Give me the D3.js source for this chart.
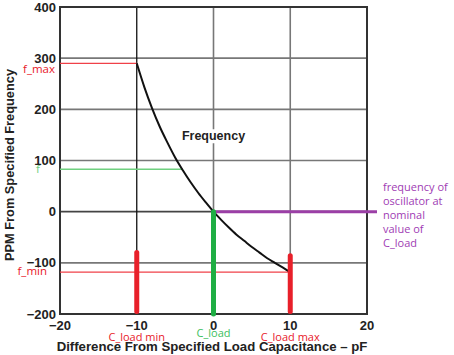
<!DOCTYPE html>
<html><head><meta charset="utf-8">
<script src="https://cdn.jsdelivr.net/npm/d3@7"></script>
<style>body{margin:0;background:#fff}svg{display:block}</style>
</head><body>
<svg id="c" width="454" height="355"></svg>
<script>
const xTicks = [-20, -10, 0, 10, 20];
const yTicks = [-200, -100, 0, 100, 200, 300, 400];
const curveX = [-10,-9,-8,-7,-6,-5,-4,-3,-2,-1,0,1,2,3,4,5,6,7,8,9,10];
const curveY = [290,243,202,166,135,106,81,58,37,18,0,-16,-31,-45,-57,-69,-80,-91,-100,-109,-118];
const fMax = 290, fNom = 83, fMin = -118, fNomX = -4;
const bars = [
  {x:-10, y0:-80, y1:-195, color:"#e8202a"},
  {x:0, y0:0, y1:-200, color:"#1fae44"},
  {x:10, y0:-86, y1:-195, color:"#e8202a"}
];
const bottomLabels = [
  {x:-10, text:"C_load min", color:"#e8202a", dy:27},
  {x:0, text:"C_load", color:"#3cc060", dy:23},
  {x:10, text:"C_load max", color:"#e8202a", dy:27}
];
const noteLines = ["frequency of","oscillator at","nominal","value of","C_load"];

const svg = d3.select("#c");
const L=60, R=367, T=7, B=314;
const x = d3.scaleLinear().domain([-20,20]).range([L,R]);
const y = d3.scaleLinear().domain([-200,400]).range([B,T]);
const bold = "Liberation Sans, Arial, sans-serif";
const light = "Open Sans, Noto Sans, sans-serif";

// grid
const g = svg.append("g");
yTicks.forEach(v=>{
  g.append("line").attr("x1",L).attr("x2",R).attr("y1",y(v)).attr("y2",y(v))
   .attr("stroke", v===0 ? "#444" : "#777").attr("stroke-width",1.6);
});
[-10,0,10].forEach(v=>{
  g.append("line").attr("x1",x(v)).attr("x2",x(v)).attr("y1",T).attr("y2",B)
   .attr("stroke", v===-10 ? "#111" : "#777").attr("stroke-width", v===-10?1.3:1.6);
});
// border
svg.append("rect").attr("x",L).attr("y",T).attr("width",R-L).attr("height",B-T)
  .attr("fill","none").attr("stroke","#333").attr("stroke-width",2);

// Frequency label with white bg
const fl = svg.append("text").attr("x",x(0)).attr("y",y(146)).attr("text-anchor","middle")
  .attr("dominant-baseline","middle").attr("font-family",bold).attr("font-weight","bold")
  .attr("font-size",12.5).attr("fill","#222").text("Frequency");
const bb = fl.node().getBBox();
svg.insert("rect", "text").attr("x",bb.x-1).attr("y",bb.y).attr("width",bb.width+2).attr("height",bb.height).attr("fill","#fff");

// horizontal annotation lines
svg.append("line").attr("x1",L).attr("x2",x(-10)).attr("y1",y(fMax)).attr("y2",y(fMax)).attr("stroke","#f04048").attr("stroke-width",1.2);
svg.append("line").attr("x1",L).attr("x2",x(fNomX)).attr("y1",y(fNom)).attr("y2",y(fNom)).attr("stroke","#6fd07f").attr("stroke-width",1.4);
svg.append("line").attr("x1",L).attr("x2",x(10)).attr("y1",y(fMin)).attr("y2",y(fMin)).attr("stroke","#f04048").attr("stroke-width",1.2);

// curve
const pts = curveX.map((v,i)=>[v,curveY[i]]);
svg.append("path").datum(pts).attr("fill","none").attr("stroke","#111").attr("stroke-width",2)
  .attr("d", d3.line().x(d=>x(d[0])).y(d=>y(d[1])).curve(d3.curveMonotoneX));

// purple line
svg.append("line").attr("x1",x(0)).attr("x2",x(20)+10).attr("y1",y(0)).attr("y2",y(0)).attr("stroke","#9b3fa6").attr("stroke-width",3);

// bars
bars.forEach(b=>{
  svg.append("line").attr("x1",x(b.x)).attr("x2",x(b.x)).attr("y1",y(b.y0)).attr("y2",y(b.y1))
   .attr("stroke",b.color).attr("stroke-width",5).attr("stroke-linecap","round");
});

// y tick labels
yTicks.forEach(v=>{
  svg.append("text").attr("x",L-4).attr("y",y(v)+4.5).attr("text-anchor","end")
   .attr("font-family",bold).attr("font-weight","bold").attr("font-size",13).attr("fill","#222")
   .text(v<0 ? "\u2212"+Math.abs(v) : v);
});
// x tick labels
xTicks.forEach(v=>{
  svg.append("text").attr("x",x(v)).attr("y",B+16).attr("text-anchor","middle")
   .attr("font-family",bold).attr("font-weight","bold").attr("font-size",13).attr("fill","#222")
   .text(v<0 ? "\u2212"+Math.abs(v) : v);
});
// side labels
svg.append("text").attr("x",55).attr("y",y(fMax)+10).attr("text-anchor","end").attr("font-family",light).attr("font-size",11.5).attr("fill","#e8202a").text("f_max");
svg.append("text").attr("x",36).attr("y",y(fNom)+4).attr("text-anchor","start").attr("font-family",light).attr("font-size",11.5).attr("fill","#6fd07f").text("f");
svg.append("text").attr("x",47).attr("y",y(fMin)+3).attr("text-anchor","end").attr("font-family",light).attr("font-size",11.5).attr("fill","#e8202a").text("f_min");

bottomLabels.forEach(l=>{
  svg.append("text").attr("x",x(l.x)).attr("y",B+l.dy).attr("text-anchor","middle")
   .attr("font-family",light).attr("font-size",11).attr("fill",l.color).text(l.text);
});
noteLines.forEach((t,i)=>{
  svg.append("text").attr("x",383).attr("y",191+i*14).attr("font-family",light).attr("font-size",11)
   .attr("fill","#a03cb4").text(t);
});
// axis titles
svg.append("text").attr("x",212).attr("y",351).attr("text-anchor","middle")
  .attr("font-family",bold).attr("font-weight","bold").attr("font-size",13.2).attr("fill","#222")
  .text("Difference From Specified Load Capacitance \u2013 pF");
svg.append("text").attr("transform","translate(14,"+165+") rotate(-90)").attr("text-anchor","middle")
  .attr("font-family",bold).attr("font-weight","bold").attr("font-size",12.8).attr("fill","#222")
  .text("PPM From Specified Frequency");
</script>
</body></html>
